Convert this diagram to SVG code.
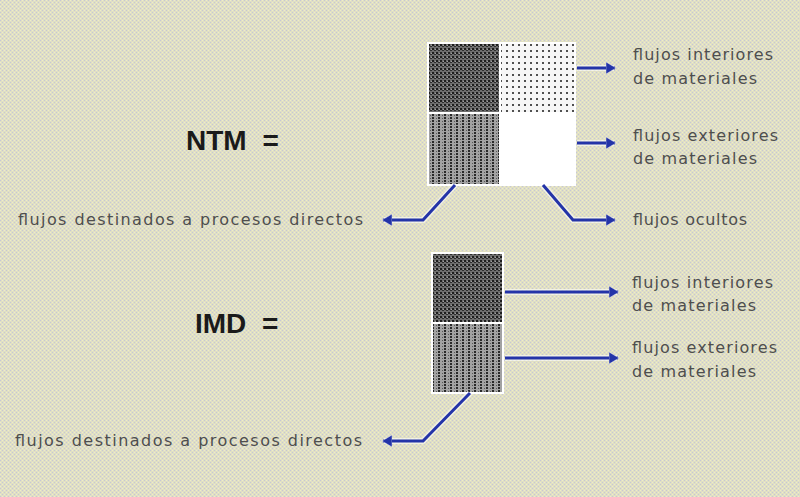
<svg xmlns="http://www.w3.org/2000/svg" width="800" height="497" viewBox="0 0 800 497">
<defs>
<pattern id="bg" width="4" height="4" patternUnits="userSpaceOnUse">
<rect width="4" height="4" fill="#e0dfc4"/>
<rect x="0" y="0" width="1" height="1" fill="#c6c6d6"/>
<rect x="2" y="2" width="1" height="1" fill="#c6c6d6"/>
<rect x="2" y="0" width="1" height="1" fill="#eeedc8"/>
<rect x="0" y="2" width="1" height="1" fill="#eeedc8"/>
</pattern>
<pattern id="dark" width="4" height="4" patternUnits="userSpaceOnUse">
<rect width="4" height="4" fill="#6e6e6e"/>
<rect x="0" y="0" width="2" height="2" fill="#1e1e1e"/>
<rect x="2" y="2" width="2" height="1" fill="#2e2e2e"/>
<rect x="3" y="1" width="1" height="1" fill="#a0a0a0"/>
</pattern>
<pattern id="dots" width="6" height="6" patternUnits="userSpaceOnUse">
<rect width="6" height="6" fill="#f6f6f6"/>
<rect x="2" y="2" width="2" height="2" fill="#505050"/>
</pattern>
<pattern id="stripes" width="6" height="3" patternUnits="userSpaceOnUse">
<rect width="6" height="3" fill="#a2a2a2"/>
<rect x="0" y="0" width="2" height="2" fill="#2a2a2a"/>
<rect x="4" y="1" width="1" height="1" fill="#5a5a5a"/>
</pattern>
<marker id="ah" viewBox="0 0 10 12" refX="9" refY="6" markerWidth="10" markerHeight="12" markerUnits="userSpaceOnUse" orient="auto">
<path d="M0,0 L10,6 L0,12 Z" fill="#2434a8" stroke="#ffffff" stroke-opacity="0.5" stroke-width="0.8"/>
</marker>
</defs>
<style>
.lbl{font-family:"DejaVu Sans","Verdana",sans-serif;font-size:16px;fill:#4e4e4e;}
.big{font-family:"Liberation Sans","Arial",sans-serif;font-size:28px;font-weight:bold;fill:#1a1a1a;word-spacing:8px;}
.halo{fill:none;stroke:#ffffff;stroke-opacity:0.55;stroke-width:6;stroke-linejoin:round;}
.arr{fill:none;stroke:#2434a8;stroke-width:3;stroke-linejoin:miter;marker-end:url(#ah);}
</style>
<rect width="800" height="497" fill="url(#bg)"/>

<g id="ntm-label"><text class="big" x="186" y="150">NTM =</text></g>
<g id="imd-label"><text class="big" x="195" y="333">IMD =</text></g>

<g id="ntm-matrix">
<rect x="427" y="42" width="149" height="144" fill="#ffffff"/>
<rect x="429" y="44" width="70" height="68" fill="url(#dark)"/>
<rect x="501" y="44" width="73" height="68" fill="url(#dots)"/>
<rect x="429" y="114" width="70" height="70" fill="url(#stripes)"/>
<rect x="501" y="114" width="73" height="70" fill="#ffffff"/>
</g>

<g id="imd-matrix">
<rect x="431" y="252" width="73" height="142" fill="#ffffff"/>
<rect x="433" y="254" width="69" height="68" fill="url(#dark)"/>
<rect x="433" y="324" width="69" height="68" fill="url(#stripes)"/>
</g>

<g id="connectors">
<path class="halo" d="M577,68 L614,68"/>
<path class="arr" d="M577,68 L615,68"/>
<path class="halo" d="M577,143 L614,143"/>
<path class="arr" d="M577,143 L615,143"/>
<path class="halo" d="M455,185 L423,220 L384,220"/>
<path class="arr" d="M455,185 L423,220 L383,220"/>
<path class="halo" d="M543,185 L573,220 L614,220"/>
<path class="arr" d="M543,185 L573,220 L615,220"/>
<path class="halo" d="M505,292 L617,292"/>
<path class="arr" d="M505,292 L618,292"/>
<path class="halo" d="M505,358 L617,358"/>
<path class="arr" d="M505,358 L618,358"/>
<path class="halo" d="M470,393 L423,441 L384,441"/>
<path class="arr" d="M470,393 L423,441 L383,441"/>
</g>

<g id="ntm-interiores"><text class="lbl" x="633" y="60" textLength="140">flujos interiores</text><text class="lbl" x="633" y="84" textLength="124">de materiales</text></g>
<g id="ntm-exteriores"><text class="lbl" x="633" y="141" textLength="145">flujos exteriores</text><text class="lbl" x="633" y="164" textLength="124">de materiales</text></g>
<g id="ntm-ocultos"><text class="lbl" x="633" y="225" textLength="114">flujos ocultos</text></g>
<g id="ntm-directos"><text class="lbl" x="18" y="225" textLength="345">flujos destinados a procesos directos</text></g>
<g id="imd-interiores"><text class="lbl" x="632" y="288" textLength="141">flujos interiores</text><text class="lbl" x="632" y="311" textLength="124">de materiales</text></g>
<g id="imd-exteriores"><text class="lbl" x="632" y="353" textLength="145">flujos exteriores</text><text class="lbl" x="632" y="377" textLength="124">de materiales</text></g>
<g id="imd-directos"><text class="lbl" x="15" y="446" textLength="347">flujos destinados a procesos directos</text></g>
</svg>
